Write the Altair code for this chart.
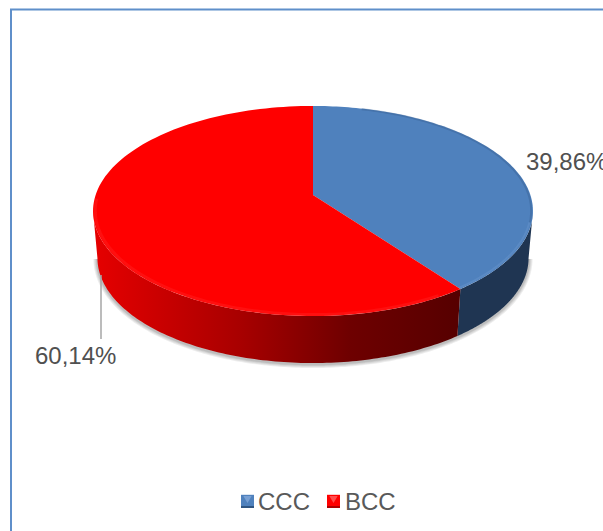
import math
import altair as alt
import pandas as pd

# Chart values
categories = ["CCC", "BCC"]
shares = [39.86, 60.14]
percent_labels = ["39,86%", "60,14%"]
top_colors = ["#4f81bd", "#ff0000"]
key_highlights = ["#7fa6d8", "#ff5a5a"]
key_edges = ["#2f5582", "#b00000"]

W, H = 603, 531

# Perspective pie: centre, radii, tilt and extrusion in canvas units
CX, CY = 313, 195
RX, RY = 217.4, 102.6
TILT = 0.1524
DEPTH = 47
BASE_SHRINK = 0.98
HORIZON_TURN = math.degrees(math.acos(-TILT))


def rim(deg, lower=False, inset=1.0):
    t = math.radians(deg)
    u, v = math.sin(t) * inset, math.cos(t) * inset
    d = 1 + TILT * v
    x, y = CX + RX * u / d, CY - RY * v / d
    if lower:
        x, y = CX + (x - CX) * BASE_SHRINK, y + DEPTH
    return x, y


def sweep(a, b, n=120):
    return [a + (b - a) * i / n for i in range(n + 1)]


def frame(points, **extra):
    return pd.DataFrame([{"x": x, "y": y, "i": i, **extra} for i, (x, y) in enumerate(points)])


X = alt.X("x:Q", scale=alt.Scale(domain=[0, W]), axis=None)
Y = alt.Y("y:Q", scale=alt.Scale(domain=[H, 0]), axis=None)


def outline(df, **mark):
    return alt.Chart(df).mark_line(interpolate="linear", **mark).encode(X, Y, order="i:Q")


split = shares[0] / sum(shares) * 360

# Walls of the two slices
blue_wall = [rim(a) for a in sweep(HORIZON_TURN, split)] + [rim(a, True) for a in sweep(split, HORIZON_TURN)]
red_wall = [rim(a) for a in sweep(split, 360 - HORIZON_TURN)] + [rim(a, True) for a in sweep(360 - HORIZON_TURN, split)]
red_gradient = alt.LinearGradient(
    gradient="linear", x1=1, y1=0, x2=0, y2=0,
    stops=[
        alt.GradientStop(offset=0, color="#560000"),
        alt.GradientStop(offset=0.3, color="#6e0000"),
        alt.GradientStop(offset=0.6, color="#a80000"),
        alt.GradientStop(offset=1, color="#e60000"),
    ],
)

# Soft ground shadow under the lower rim
shadow_arc = [(x, y + 1) for x, y in (rim(a, True) for a in sweep(HORIZON_TURN, 360 - HORIZON_TURN, 200))]
shadows = [
    outline(frame(shadow_arc), stroke="#000000", strokeWidth=w, opacity=0.07)
    for w in (8, 6, 4, 2.5)
]

walls = [
    outline(frame(blue_wall), fill="#1f3552", strokeWidth=0, stroke="#1f3552"),
    outline(frame(red_wall), fill=red_gradient, strokeWidth=0, stroke="#8a0000"),
]

# Top face, one wedge per category
starts = [0, split]
ends = [split, 360]
faces = pd.concat(
    [
        frame([(CX, CY)] + [rim(a) for a in sweep(s, e)] + [(CX, CY)], category=c)
        for c, s, e in zip(categories, starts, ends)
    ]
)
face_layer = (
    alt.Chart(faces)
    .mark_line(strokeWidth=0, interpolate="linear")
    .encode(
        X,
        Y,
        order="i:Q",
        fill=alt.Fill(
            "category:N",
            scale=alt.Scale(domain=categories, range=top_colors),
            legend=alt.Legend(
                title=None,
                orient="none",
                legendX=234,
                legendY=491,
                direction="horizontal",
                symbolType="square",
                symbolSize=170,
                symbolStrokeWidth=0,
                symbolOpacity=0,
                labelFont="Liberation Sans",
                labelFontSize=24,
                labelColor="#595959",
                columnPadding=11,
                labelOffset=0,
            ),
        ),
    )
)

# Bevel along the rim of the top face
bevels = [
    outline(frame([rim(a, inset=0.992) for a in sweep(15, 105)]), stroke="#34598a", strokeWidth=2, opacity=0.35),
    outline(frame([rim(a, inset=0.99) for a in sweep(105, split)]), stroke="#6f9bd0", strokeWidth=2, opacity=0.35),
    outline(frame([rim(a, inset=0.99) for a in sweep(split + 6, 268)]), stroke="#ff4a4a", strokeWidth=3, opacity=0.2),
]

# Bevelled legend keys
key_x = [247.5, 333.5]
key_faces = (
    alt.Chart(pd.DataFrame({"x": key_x, "y": [501.3, 501.3], "color": top_colors}))
    .mark_point(shape="square", filled=True, size=169, opacity=1)
    .encode(X, Y, color=alt.Color("color:N", scale=None, legend=None))
)
key_glints = (
    alt.Chart(pd.DataFrame({"x": key_x, "y": [499.5, 499.5], "color": key_highlights}))
    .mark_point(shape="triangle-down", filled=True, size=70, opacity=0.85)
    .encode(X, Y, color=alt.Color("color:N", scale=None, legend=None))
)
key_bottoms = (
    alt.Chart(pd.DataFrame({"x": [k - 6.5 for k in key_x], "x2": [k + 6.5 for k in key_x], "y": [507, 507], "color": key_edges}))
    .mark_rule(strokeWidth=2)
    .encode(X, Y, x2="x2:Q", color=alt.Color("color:N", scale=None, legend=None))
)

# Data labels and the leader line of the red slice
label_df = pd.DataFrame({"x": [526, 35], "y": [163, 357], "text": percent_labels})
labels = (
    alt.Chart(label_df)
    .mark_text(align="left", baseline="middle", font="Liberation Sans", fontSize=24, color="#505050")
    .encode(X, Y, text="text:N")
)
leader = (
    alt.Chart(pd.DataFrame({"x": [101], "y": [275], "y2": [339]}))
    .mark_rule(color="#a6a6a6", strokeWidth=1.5)
    .encode(X, Y, y2="y2:Q")
)

# Frame around the chart area
frame_left = (
    alt.Chart(pd.DataFrame({"x": [11], "y": [9.5], "y2": [H]}))
    .mark_rule(color="#5f8fca", strokeWidth=2)
    .encode(X, Y, y2="y2:Q")
)
frame_top = (
    alt.Chart(pd.DataFrame({"x": [10], "x2": [W], "y": [9.5]}))
    .mark_rule(color="#5f8fca", strokeWidth=2)
    .encode(X, Y, x2="x2:Q")
)

chart = (
    alt.layer(
        frame_left, frame_top, *shadows, *walls, face_layer, *bevels,
        leader, labels, key_faces, key_glints, key_bottoms,
    )
    .properties(
        width=W,
        height=H,
        padding=0,
        autosize=alt.AutoSizeParams(type="none"),
        background="white",
    )
    .configure_view(stroke=None)
)

chart.save("out.html", embed_options={"renderer": "svg", "actions": False})
